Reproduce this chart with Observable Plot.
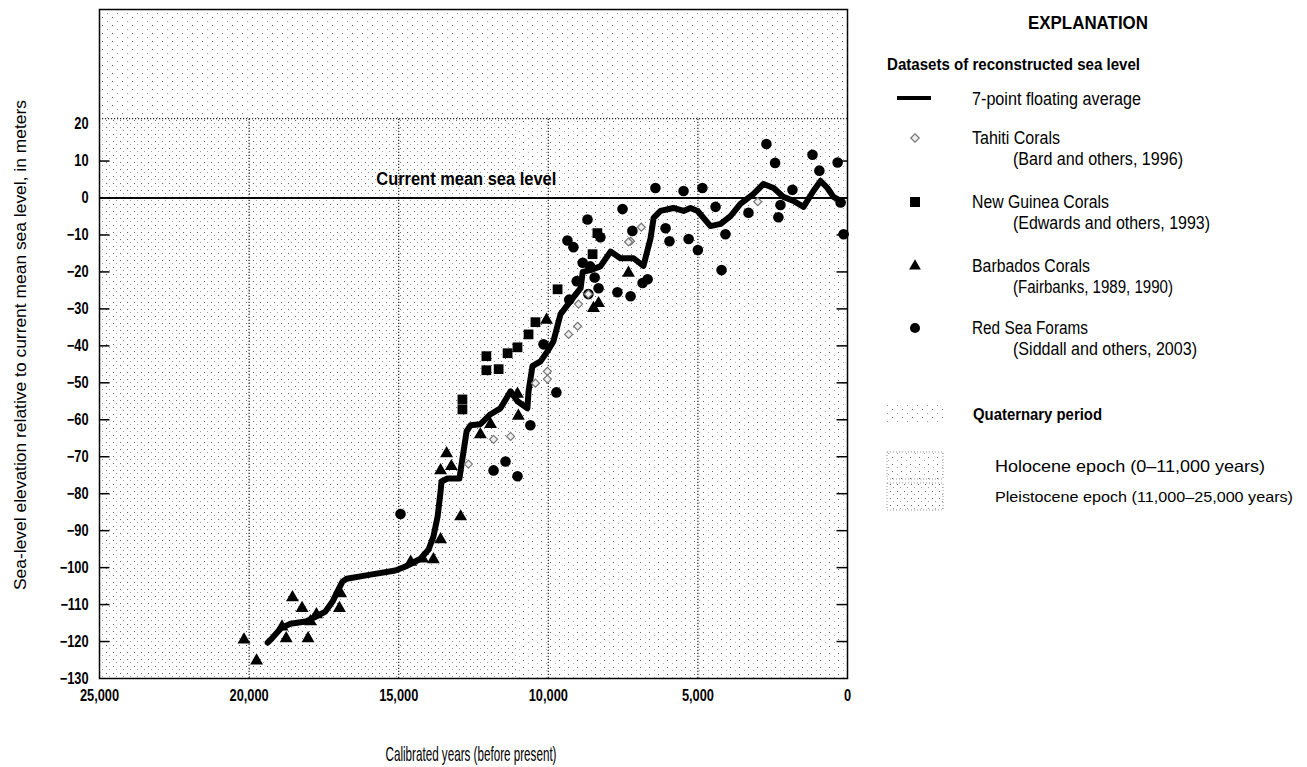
<!DOCTYPE html>
<html><head><meta charset="utf-8">
<script src="https://cdn.jsdelivr.net/npm/d3@7"></script>
<script src="https://cdn.jsdelivr.net/npm/@observablehq/plot@0.6"></script>
<style>body{margin:0;background:#fff;}</style>
</head><body><div id="chart"></div>
<script>
// ---------- DATA ----------
const xTicks = [25000, 20000, 15000, 10000, 5000, 0];
const yTicks = [20, 10, 0, -10, -20, -30, -40, -50, -60, -70, -80, -90, -100, -110, -120, -130];
const gridYears = [20000, 15000, 10000, 5000];

// 7-point floating average [years before present, metres]
const floatingAverage = [[19380,-120.3],[19220,-119],[18920,-116.3],[18620,-115.2],[18110,-114.6],[17780,-113.3],[17450,-111.9],[17210,-109.2],[17050,-106.5],[16880,-103.8],[16740,-103],[15940,-101.9],[15110,-100.8],[14770,-99.7],[14270,-97.6],[14000,-95.1],[13840,-91.6],[13700,-86.2],[13600,-79.4],[13570,-76.7],[13370,-75.9],[12970,-75.9],[12870,-70.5],[12730,-63.1],[12600,-61.5],[12270,-61.2],[11930,-58.5],[11600,-56.9],[11260,-52.3],[11030,-55],[10700,-56.9],[10660,-52.3],[10530,-45.5],[10260,-44.2],[10030,-41.5],[9830,-38.8],[9590,-31.4],[9260,-27.9],[8920,-24.4],[8850,-20],[8590,-19.5],[8260,-18.5],[7920,-14.5],[7590,-16.3],[7150,-16.3],[6820,-18.4],[6580,-10.8],[6480,-5.4],[6250,-3.5],[5820,-2.7],[5480,-3.5],[5250,-2.7],[5010,-3.5],[4810,-5.4],[4580,-7.6],[4240,-7],[3910,-4.9],[3580,-1.6],[3140,1.1],[2810,3.8],[2470,2.7],[2140,0.3],[1800,-0.8],[1470,-2.4],[1140,1.9],[900,4.6],[670,2.7],[470,0.3],[230,-0.8]];

const tahitiCorals = [[9020,-34.7],[9320,-36.9],[10030,-46.9],[10030,-49],[10430,-50.1],[11260,-64.5],[11830,-65.3],[12670,-72],[8660,-26],[8990,-28.7],[7250,-11.7],[6890,-7.9],[7320,-11.9],[3000,-1]];

const newGuineaCorals = [[9690,-24.7],[10430,-33.6],[10660,-36.9],[11030,-40.4],[11360,-42],[12070,-42.8],[11660,-46.3],[12070,-46.6],[12870,-54.5],[12870,-57.2],[8360,-9.5],[8520,-15.2]];

const barbadosCorals = [[20170,-119.5],[19750,-125.2],[18760,-119.2],[18030,-119.2],[18550,-108.1],[18230,-111],[17950,-114.6],[17750,-112.7],[16980,-111],[16940,-107],[18900,-116],[12930,-86.2],[13600,-92.4],[13840,-97.8],[14200,-97.6],[13400,-69.1],[13240,-72.6],[13600,-73.7],[12270,-64],[11930,-61.2],[11000,-59],[10060,-33],[8320,-28.5],[8490,-29.8],[11030,-53],[7320,-20.3],[14600,-98.5]];

const redSeaForams = [[14940,-85.5],[11830,-73.7],[11430,-71.3],[11030,-75.3],[10600,-61.5],[9730,-52.6],[10160,-39.6],[9360,-11.5],[9160,-13.3],[8690,-5.8],[8660,-26],[8320,-24.4],[7690,-25.5],[7250,-26.6],[6850,-23],[6680,-22],[7520,-3],[8260,-10.6],[7190,-8.9],[6420,2.7],[5480,1.9],[4850,2.7],[6080,-8.2],[5950,-11.7],[5310,-11.1],[5000,-14.1],[4410,-2.4],[4080,-9.8],[4210,-19.5],[3310,-4],[2310,-5.2],[2240,-1.9],[1840,2.2],[2710,14.6],[2420,9.5],[1170,11.7],[940,7.4],[330,9.6],[230,-1.2],[130,-9.8],[9300,-27.5],[9050,-22.5],[8850,-17.5],[8600,-18.5],[8450,-21.5]];

const periodIds = ["holo", "pleist"];
const periodStart = [0, 11000];
const periodEnd = [11000, 25000];
const gridTop = 21.5;

// ---------- CHART ----------
const FONT = '"Liberation Sans",Arial,"DejaVu Sans",sans-serif';
const periods = periodIds.map((id, i) => ({id, start: periodStart[i], end: periodEnd[i]}));
const xy = {x: d => d[0], y: d => d[1]};
const innerTicks = yTicks.filter(d => d !== 0 && d !== 20 && d !== -130);

const chart = Plot.plot({
  width: 1307, height: 767,
  marginLeft: 99, marginRight: 460, marginTop: 9, marginBottom: 89,
  style: {fontFamily: FONT, fontSize: "16px", background: "#fff", color: "#000"},
  x: {domain: [25000, 0]},
  y: {domain: [-130, 51]},
  marks: [
    Plot.rect([{}], {x1: 25000, x2: 0, y1: gridTop, y2: 51, fill: "url(#pat-quat)"}),
    ...periods.map(p => Plot.rect([p], {x1: d => d.start, x2: d => d.end, y1: -130, y2: gridTop, fill: `url(#pat-${p.id})`})),
    Plot.ruleX(gridYears, {y1: -130, y2: gridTop, stroke: "#222", strokeDasharray: "1.2,1.8", strokeWidth: 1.2}),
    Plot.ruleY([gridTop], {stroke: "#222", strokeDasharray: "1.2,1.8", strokeWidth: 1.2}),
    Plot.ruleY(innerTicks, {x1: 25000, x2: 24650, stroke: "#000", strokeWidth: 1.5}),
    Plot.ruleY(innerTicks, {x1: 0, x2: 350, stroke: "#000", strokeWidth: 1.5}),
    Plot.ruleY([0], {stroke: "#000", strokeWidth: 2}),
    Plot.text(["Current mean sea level"], {x: 15750, y: 5, text: d => d, textAnchor: "start", fontSize: 18, fontWeight: "bold"}),
    Plot.dot(redSeaForams, {...xy, r: 5.3, fill: "#000", stroke: "none"}),
    Plot.dot(newGuineaCorals, {...xy, symbol: "square", r: 5.5, fill: "#000", stroke: "none"}),
    Plot.dot(barbadosCorals, {...xy, symbol: "triangle", r: 4.8, fill: "#000", stroke: "none"}),
    Plot.line(floatingAverage, {...xy, stroke: "#000", strokeWidth: 6, strokeLinejoin: "round", strokeLinecap: "round"}),
    Plot.dot(tahitiCorals, {...xy, symbol: "diamond2", r: 3.6, fill: "#eee", stroke: "#777", strokeWidth: 1.2}),
    Plot.frame({stroke: "#000", strokeWidth: 1.5}),
    Plot.axisX({ticks: xTicks, tickFormat: d3.format(","), tickSize: 0, tickPadding: 11, label: null, fontWeight: "bold"}),
    Plot.axisY({ticks: yTicks, tickSize: 0, tickPadding: 11, label: null, fontWeight: "bold"})
  ]
});
document.getElementById("chart").appendChild(chart);

const svg = d3.select(chart);
function fit(node, w) { node.setAttribute("textLength", w); node.setAttribute("lengthAdjust", "spacingAndGlyphs"); }

// stipple patterns for the geologic periods
svg.insert("defs", ":first-child").html(`
  <pattern id="pat-pleist" width="7" height="7" patternUnits="userSpaceOnUse">
    <rect x="1" y="1" width="1" height="1" fill="#666"/><rect x="4" y="4" width="1" height="1" fill="#999"/></pattern>
  <pattern id="pat-holo" width="9" height="7" patternUnits="userSpaceOnUse">
    <rect x="1" y="2" width="1" height="1" fill="#666"/><rect x="6" y="5" width="1" height="1" fill="#aaa"/></pattern>
  <pattern id="pat-quat" width="10" height="8" patternUnits="userSpaceOnUse">
    <rect x="2" y="1" width="1" height="1" fill="#666"/><rect x="7" y="5" width="1" height="1" fill="#999"/></pattern>`);

// condensed look for tick labels and the in-plot label
svg.selectAll('g[aria-label="x-axis tick label"] text, g[aria-label="y-axis tick label"] text').each(function () {
  fit(this, this.getComputedTextLength() * 0.8);
});
svg.selectAll("text").filter(function () { return this.textContent === "Current mean sea level"; }).each(function () { fit(this, 180); });

// axis titles
svg.append("text").attr("transform", "translate(26,345) rotate(-90)").attr("text-anchor", "middle")
  .attr("font-family", FONT).attr("font-size", 16).text("Sea-level elevation relative to current mean sea level, in meters")
  .each(function () { fit(this, 490); });
svg.append("text").attr("x", 471).attr("y", 761).attr("text-anchor", "middle")
  .attr("font-family", FONT).attr("font-size", 21).text("Calibrated years (before present)")
  .each(function () { fit(this, 171); });

// legend
const lg = svg.append("g").attr("font-family", FONT).attr("fill", "#000").attr("text-anchor", "start");
function label(x, y, txt, w, size = 17.5, bold = false, anchor = "start") {
  lg.append("text").attr("x", x).attr("y", y).attr("text-anchor", anchor).attr("font-size", size)
    .attr("font-weight", bold ? "bold" : "normal").text(txt).each(function () { fit(this, w); });
}
label(1088, 29, "EXPLANATION", 120, 18, true, "middle");
label(887, 70, "Datasets of reconstructed sea level", 253, 17, true);
lg.append("line").attr("x1", 897).attr("x2", 931).attr("y1", 98).attr("y2", 98).attr("stroke", "#000").attr("stroke-width", 4);
label(972, 105, "7-point floating average", 169);
const items = [
  {name: "Tahiti Corals", nw: 88, cite: "(Bard and others, 1996)", cw: 170, type: d3.symbolDiamond2, size: 45, fill: "#eee", stroke: "#777", cy: 138},
  {name: "New Guinea Corals", nw: 137, cite: "(Edwards and others, 1993)", cw: 197, type: d3.symbolSquare, size: 100, fill: "#000", stroke: "none", cy: 202},
  {name: "Barbados Corals", nw: 118, cite: "(Fairbanks, 1989, 1990)", cw: 160, type: d3.symbolTriangle, size: 60, fill: "#000", stroke: "none", cy: 266},
  {name: "Red Sea Forams", nw: 116, cite: "(Siddall and others, 2003)", cw: 184, type: d3.symbolCircle, size: 80, fill: "#000", stroke: "none", cy: 328}
];
for (const it of items) {
  lg.append("path").attr("transform", `translate(915,${it.cy})`).attr("d", d3.symbol(it.type, it.size)())
    .attr("fill", it.fill).attr("stroke", it.stroke).attr("stroke-width", 1.2);
  label(972, it.cy + 6, it.name, it.nw);
  label(1013, it.cy + 27, it.cite, it.cw);
}
lg.append("rect").attr("x", 887).attr("y", 404).attr("width", 56).attr("height", 21).attr("fill", "url(#pat-quat)");
label(973, 420, "Quaternary period", 129, 17, true);
lg.append("rect").attr("x", 887).attr("y", 452).attr("width", 56).attr("height", 27).attr("fill", "url(#pat-holo)").attr("stroke", "#999").attr("stroke-dasharray", "1,2");
label(995, 472, "Holocene epoch (0–11,000 years)", 270, 16.5);
lg.append("rect").attr("x", 887).attr("y", 483).attr("width", 56).attr("height", 27).attr("fill", "url(#pat-pleist)").attr("stroke", "#999").attr("stroke-dasharray", "1,2");
label(995, 502, "Pleistocene epoch (11,000–25,000 years)", 298, 15.5);
</script></body></html>
